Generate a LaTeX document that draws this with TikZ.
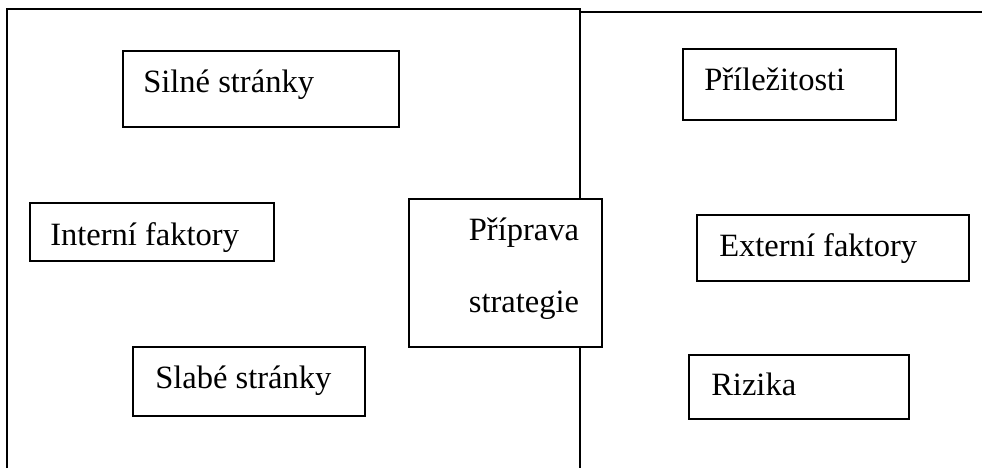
\documentclass[tikz,border=0pt]{standalone}
\usepackage{fontspec}
\setmainfont{Liberation Serif}
\begin{document}
\begin{tikzpicture}[x=0.75pt,y=-0.75pt,
  frame/.style={line width=1.2pt,black},
  box/.style={draw=black,line width=1.4pt,anchor=north west,inner sep=0pt,outer sep=0pt},
  txt/.style={anchor=base west,inner sep=0pt,font=\fontsize{24.4pt}{29pt}\selectfont}]
\useasboundingbox (0,0) rectangle (982,468);
% frame
\coordinate (lt) at (7,9);
\coordinate (lb) at (7,468);
\coordinate (mt) at (580,9);
\coordinate (mb) at (580,468);
\coordinate (rs) at (580,12);
\coordinate (re) at (982,12);
\draw[frame] (lb) -- (lt) -- (mt) -- (mb);
\draw[frame] (rs) -- (re);
% boxes
\node[box,minimum width=276*0.75pt,minimum height=76*0.75pt] (silneBox) at (123,51) {};
\node[txt] (silne) at (143,92) {Silné stránky};
\node[box,minimum width=244*0.75pt,minimum height=58*0.75pt] (interniBox) at (30,203) {};
\node[txt] (interni) at (50,245) {Interní faktory};
\node[box,minimum width=232*0.75pt,minimum height=69*0.75pt] (slabeBox) at (133,347) {};
\node[txt] (slabe) at (155,388) {Slabé stránky};
\node[box,fill=white,minimum width=193*0.75pt,minimum height=148*0.75pt] (pripravaBox) at (409,199) {};
\node[txt,anchor=base] (priprava) at (524,240) {Příprava};
\node[txt,anchor=base] (strategie) at (524,312) {strategie};
\node[box,minimum width=213*0.75pt,minimum height=71*0.75pt] (prilBox) at (683,49) {};
\node[txt] (pril) at (704,90) {Příležitosti};
\node[box,minimum width=272*0.75pt,minimum height=66*0.75pt] (externiBox) at (697,215) {};
\node[txt] (externi) at (719,256) {Externí faktory};
\node[box,minimum width=220*0.75pt,minimum height=64*0.75pt] (rizikaBox) at (689,355) {};
\node[txt] (rizika) at (711,395) {Rizika};
\end{tikzpicture}
\end{document}
